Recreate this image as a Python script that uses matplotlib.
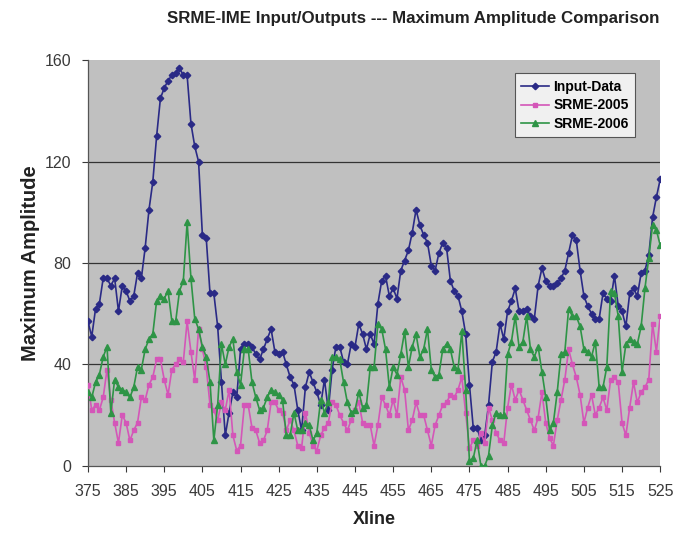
import matplotlib
matplotlib.use("Agg")
import matplotlib.pyplot as plt
import numpy as np

plt.rcParams['font.family'] = ['Liberation Sans', 'DejaVu Sans']

xline = list(range(375, 526))

input_data = [
    57, 51, 62, 64, 74, 74, 71, 74, 61, 71,
    69, 65, 67, 76, 74, 86, 101, 112, 130, 145,
    149, 152, 154, 155, 157, 154, 154, 135, 126, 120,
    91, 90, 68, 68, 55, 33, 12, 21, 29, 27,
    46, 48, 48, 47, 44, 42, 46, 50, 54, 45,
    44, 45, 40, 35, 32, 22, 14, 31, 37, 33,
    29, 24, 34, 22, 38, 47, 47, 41, 40, 48,
    47, 56, 52, 46, 52, 48, 64, 73, 75, 67,
    70, 66, 77, 81, 85, 92, 101, 95, 91, 88,
    79, 77, 84, 88, 86, 73, 69, 67, 61, 52,
    32, 15, 15, 10, 12, 24, 41, 45, 56, 50,
    61, 65, 70, 61, 61, 62, 59, 58, 71, 78,
    73, 71, 71, 72, 74, 77, 84, 91, 89, 77,
    67, 63, 60, 58, 58, 68, 66, 65, 75, 63,
    61, 55, 68, 70, 67, 76, 77, 83, 98, 106,
    113,
]

srme_2005 = [
    32, 22, 24, 22, 27, 38, 26, 17, 9, 20,
    17, 10, 14, 17, 27, 26, 32, 35, 42, 42,
    34, 28, 38, 40, 42, 41, 57, 45, 34, 54,
    46, 39, 24, 22, 18, 25, 22, 30, 12, 6,
    8, 24, 24, 15, 14, 9, 10, 14, 25, 25,
    22, 21, 14, 18, 14, 8, 7, 21, 13, 8,
    6, 12, 15, 17, 25, 24, 20, 17, 14, 18,
    22, 25, 17, 16, 16, 8, 16, 27, 24, 20,
    26, 20, 35, 30, 14, 18, 25, 20, 20, 14,
    8, 16, 20, 24, 25, 28, 27, 30, 35, 21,
    7, 10, 8, 13, 9, 23, 18, 13, 10, 9,
    23, 32, 26, 30, 26, 22, 18, 14, 19, 29,
    17, 11, 8, 18, 26, 34, 46, 40, 35, 28,
    17, 23, 28, 20, 23, 27, 22, 34, 35, 33,
    17, 12, 23, 33, 25, 29, 31, 34, 56, 45,
    59,
]

srme_2006 = [
    29, 27, 33, 36, 43, 47, 21, 34, 31, 30,
    29, 27, 31, 39, 38, 46, 50, 52, 65, 67,
    66, 69, 57, 57, 69, 73, 96, 74, 58, 54,
    47, 43, 33, 10, 24, 48, 40, 47, 50, 37,
    32, 46, 46, 33, 27, 22, 23, 27, 30, 29,
    28, 26, 12, 12, 21, 14, 14, 17, 16, 10,
    13, 26, 21, 25, 43, 43, 42, 33, 25, 21,
    22, 29, 23, 24, 39, 39, 56, 54, 46, 31,
    39, 36, 44, 53, 39, 47, 52, 43, 46, 54,
    38, 35, 36, 46, 48, 46, 39, 38, 53, 30,
    2, 3, 10, 0, 0, 4, 16, 21, 20, 20,
    44, 49, 59, 47, 49, 59, 46, 43, 47, 37,
    27, 14, 17, 29, 44, 45, 62, 59, 59, 55,
    46, 45, 43, 49, 31, 31, 39, 69, 68, 59,
    37, 48, 50, 49, 48, 55, 70, 82, 95, 93,
    87,
]

x_ticks = list(range(375, 526, 10))
y_ticks = [0, 40, 80, 120, 160]

fig = plt.figure(figsize=(6.87, 5.33), dpi=100)
ax = fig.add_axes([0.128, 0.126, 0.833, 0.761])
ax.set_facecolor('#C0C0C0')

ax.plot(xline, input_data, color='#2A2A86', marker='D', markersize=3.3,
        linewidth=1.2, label='Input-Data', zorder=3)
ax.plot(xline, srme_2005, color='#D456B8', marker='s', markersize=3.1,
        linewidth=1.2, label='SRME-2005', zorder=3)
ax.plot(xline, srme_2006, color='#2E9446', marker='^', markersize=3.7,
        linewidth=1.2, label='SRME-2006', zorder=3)

ax.set_xlim(375, 525)
ax.set_ylim(0, 160)
ax.set_xticks(x_ticks)
ax.set_yticks(y_ticks)
ax.tick_params(axis='both', labelsize=11.5, colors='#3A3A3A', length=4,
               direction='out', width=0.8)
ax.tick_params(axis='x', pad=9)
ax.tick_params(axis='y', pad=8)
for yv in y_ticks[1:4]:
    ax.axhline(yv, color='#333333', linewidth=0.9, zorder=1)

for side in ['top', 'right']:
    ax.spines[side].set_visible(False)
for side in ['left', 'bottom']:
    ax.spines[side].set_color('#555555')
    ax.spines[side].set_linewidth(0.9)

ax.set_xlabel('Xline', fontsize=13, fontweight='bold', color='#222222', labelpad=9)
ax.set_ylabel('Maximum Amplitude', fontsize=14.5, fontweight='bold', color='#222222', labelpad=3)
fig.text(0.602, 0.965, 'SRME-IME Input/Outputs --- Maximum Amplitude Comparison',
         ha='center', va='center', fontsize=12.2, fontweight='bold', color='#222222')

leg = ax.legend(loc='upper right', bbox_to_anchor=(0.968, 0.985),
                frameon=True, fancybox=False, borderpad=0.45, labelspacing=0.35,
                handlelength=2.0, handletextpad=0.3, prop={'weight': 'bold', 'size': 10})
leg.get_frame().set_facecolor('#F0F0F0')
leg.get_frame().set_edgecolor('#555555')
leg.get_frame().set_linewidth(0.8)
leg.get_frame().set_alpha(1.0)

fig.savefig('out.png', dpi=100)
